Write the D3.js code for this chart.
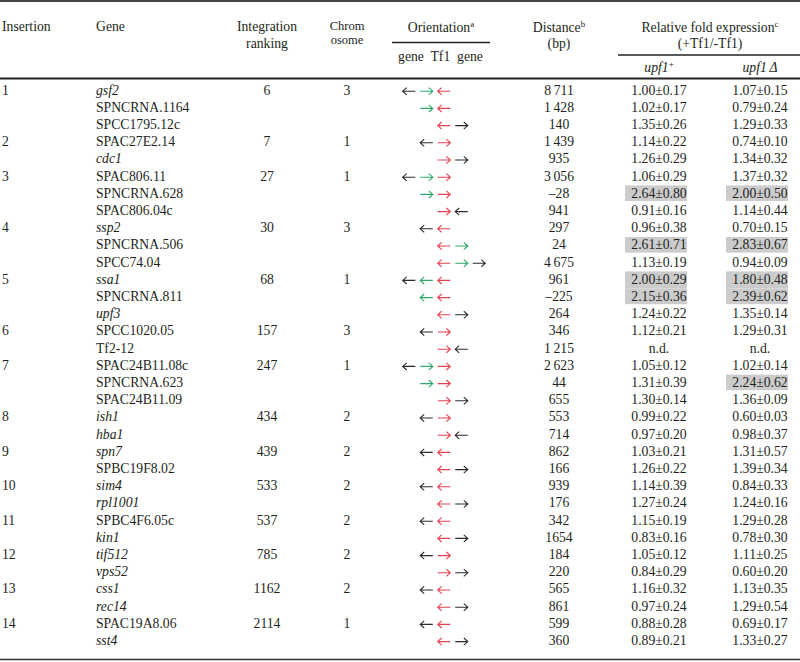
<!DOCTYPE html>
<html><head><meta charset="utf-8">
<script src="https://cdn.jsdelivr.net/npm/d3@7"></script>
<style>body{margin:0;background:#fff}svg{display:block}</style>
</head><body>
<script>
// ---- data ----
const insertions = ["1","","","2","","3","","","4","","","5","","","6","","7","","","8","","9","","10","","11","","12","","13","","14",""];
const genes = ["gsf2","SPNCRNA.1164","SPCC1795.12c","SPAC27E2.14","cdc1","SPAC806.11","SPNCRNA.628","SPAC806.04c","ssp2","SPNCRNA.506","SPCC74.04","ssa1","SPNCRNA.811","upf3","SPCC1020.05","Tf2-12","SPAC24B11.08c","SPNCRNA.623","SPAC24B11.09","ish1","hba1","spn7","SPBC19F8.02","sim4","rpl1001","SPBC4F6.05c","kin1","tif512","vps52","css1","rec14","SPAC19A8.06","sst4"];
const rankings = ["6","","","7","","27","","","30","","","68","","","157","","247","","","434","","439","","533","","537","","785","","1162","","2114",""];
const chromosomes = ["3","","","1","","1","","","3","","","1","","","3","","1","","","2","","2","","2","","2","","2","","2","","1",""];
// orientation: 5 slots; k=gene (black), g=ncRNA (green), r=Tf1 (red); < left, > right
const orientations = [
 "k< g> r< . .", ". g> r< . .", ". . r< k> .",
 ". k< r> . .", ". . r> k> .",
 "k< g> r> . .", ". g> r> . .", ". . r> k< .",
 ". k< r< . .", ". . r< g> .", ". . r< g> k>",
 "k< g< r< . .", ". g< r< . .", ". . r< k> .",
 ". k< r> . .", ". . r> k< .",
 "k< g> r> . .", ". g> r> . .", ". . r> k> .",
 ". k< r> . .", ". . r> k< .",
 ". k< r< . .", ". . r< k> .",
 ". k< r< . .", ". . r< k> .",
 ". k< r< . .", ". . r< k> .",
 ". k< r> . .", ". . r> k> .",
 ". k< r< . .", ". . r< k> .",
 ". k< r< . .", ". . r< k> ."];
const distances = ["8\u2009711","1\u2009428","140","1\u2009439","935","3\u2009056","\u201328","941","297","24","4\u2009675","961","\u2013225","264","346","1\u2009215","2\u2009623","44","655","553","714","862","166","939","176","342","1654","184","220","565","861","599","360"];
const upf1Plus = ["1.00±0.17","1.02±0.17","1.35±0.26","1.14±0.22","1.26±0.29","1.06±0.29","2.64±0.80","0.91±0.16","0.96±0.38","2.61±0.71","1.13±0.19","2.00±0.29","2.15±0.36","1.24±0.22","1.12±0.21","n.d.","1.05±0.12","1.31±0.39","1.30±0.14","0.99±0.22","0.97±0.20","1.03±0.21","1.26±0.22","1.14±0.39","1.27±0.24","1.15±0.19","0.83±0.16","1.05±0.12","0.84±0.29","1.16±0.32","0.97±0.24","0.88±0.28","0.89±0.21"];
const upf1Delta = ["1.07±0.15","0.79±0.24","1.29±0.33","0.74±0.10","1.34±0.32","1.37±0.32","2.00±0.50","1.14±0.44","0.70±0.15","2.83±0.67","0.94±0.09","1.80±0.48","2.39±0.62","1.35±0.14","1.29±0.31","n.d.","1.02±0.14","2.24±0.62","1.36±0.09","0.60±0.03","0.98±0.37","1.31±0.57","1.39±0.34","0.84±0.33","1.24±0.16","1.29±0.28","0.78±0.30","1.11±0.25","0.60±0.20","1.13±0.35","1.29±0.54","0.69±0.17","1.33±0.27"];
const highlightPlus = [6,9,11,12];
const highlightDelta = [6,9,11,12,17];

// ---- layout ----
const W = 800, H = 662;
const FONT = "'Liberation Serif','Times New Roman',serif";
const FS = 13.7;
const TXT = "#231f20";
const svg = d3.select("body").append("svg").attr("width", W).attr("height", H)
  .style("font-family", FONT).style("font-size", FS + "px").attr("fill", TXT);

const n = genes.length;
const rowStep = 17.2;
const y = d3.scaleBand().domain(d3.range(n)).range([81.4, 81.4 + rowStep * n]).paddingInner(0).paddingOuter(0);
const yc = i => y(i) + y.bandwidth() / 2;

const colX = {ins: 2, gene: 96, rank: 267, chrom: 347, orient: 441, dist: 559, plus: 659, delta: 760};
const slot = d3.scalePoint().domain([0,1,2,3,4]).range([409, 479]);
const colors = {k: "#2b2b2b", g: "#2ea868", r: "#e5414f"};

// rules
function hline(x1, x2, yy, w, c) {
  svg.append("line").attr("x1", x1).attr("x2", x2).attr("y1", yy).attr("y2", yy)
    .attr("stroke", c || "#333").attr("stroke-width", w);
}
hline(0, W, 1, 2, "#444");
hline(0, W, 78.5, 2.2, "#222");
hline(0, W, 659.5, 1.6, "#333");
hline(392, 490, 42.5, 1.5, "#222");
hline(618, W, 55, 1.5, "#222");

// header
function htext(x, yy, anchor) {
  return svg.append("text").attr("x", x).attr("y", yy).attr("text-anchor", anchor || "middle");
}
htext(colX.ins, 31, "start").text("Insertion");
htext(colX.gene, 31, "start").text("Gene");
htext(colX.rank, 31).text("Integration");
htext(colX.rank, 48).text("ranking");
let t = htext(colX.chrom, 29.5).style("font-size", "12.5px");
t.append("tspan").attr("x", colX.chrom).text("Chrom");
t.append("tspan").attr("x", colX.chrom).attr("dy", 14.2).text("osome");
t = htext(colX.orient, 32); t.append("tspan").text("Orientation");
t.append("tspan").attr("dy", -5).style("font-size", "9px").text("a");
htext(colX.orient - 0.5, 61).attr("xml:space","preserve").text("gene  Tf1  gene");
t = htext(colX.dist, 32); t.append("tspan").text("Distance");
t.append("tspan").attr("dy", -5).style("font-size", "9px").text("b");
htext(colX.dist, 48).text("(bp)");
t = htext(710, 32); t.append("tspan").text("Relative fold expression");
t.append("tspan").attr("dy", -5).style("font-size", "9px").text("c");
htext(710, 48).text("(+Tf1/-Tf1)");
t = htext(colX.plus, 72); t.append("tspan").style("font-style", "italic").text("upf1");
t.append("tspan").attr("dy", -5).style("font-size", "9px").text("+");
htext(colX.delta, 72).style("font-style", "italic").text("upf1\u2009Δ");

// highlights
function drawHighlights(list, cx) {
  list.forEach(i => {
    const top = yc(i) - 7.8;
    const h = list.includes(i + 1) ? rowStep : 15.6;
    svg.append("rect").attr("x", cx - 33).attr("y", top).attr("width", 62).attr("height", h)
      .attr("fill", "#cccccc");
  });
}
drawHighlights(highlightPlus, colX.plus - 1);
drawHighlights(highlightDelta, colX.delta - 1);

// body rows
const rows = svg.append("g").selectAll("g").data(d3.range(n)).join("g");
rows.append("text").attr("x", colX.ins).attr("y", i => yc(i) + 4.6).text(i => insertions[i]);
rows.append("text").attr("x", colX.gene).attr("y", i => yc(i) + 4.6)
  .style("font-style", i => /^[a-z]/.test(genes[i]) ? "italic" : "normal").text(i => genes[i]);
rows.append("text").attr("x", colX.rank).attr("text-anchor", "middle").attr("y", i => yc(i) + 4.6).text(i => rankings[i]);
rows.append("text").attr("x", colX.chrom).attr("text-anchor", "middle").attr("y", i => yc(i) + 4.6).text(i => chromosomes[i]);
rows.append("text").attr("x", colX.dist).attr("text-anchor", "middle").attr("y", i => yc(i) + 4.6).text(i => distances[i]);
rows.append("text").attr("x", colX.plus).attr("text-anchor", "middle").attr("y", i => yc(i) + 4.6).text(i => upf1Plus[i]);
rows.append("text").attr("x", colX.delta).attr("text-anchor", "middle").attr("y", i => yc(i) + 4.6).text(i => upf1Delta[i]);

// arrows
rows.each(function(i) {
  const g = d3.select(this);
  orientations[i].split(" ").forEach((tok, s) => {
    if (tok === ".") return;
    const c = colors[tok[0]], dir = tok[1] === ">" ? 1 : -1;
    const cx = slot(s), cy = yc(i) + 1.2, half = 6.3;
    const tip = cx + dir * half, tail = cx - dir * half;
    g.append("path")
      .attr("d", `M${tail},${cy}L${tip},${cy}M${tip - dir * 4},${cy - 3.6}L${tip},${cy}L${tip - dir * 4},${cy + 3.6}`)
      .attr("fill", "none").attr("stroke", c).attr("stroke-width", 1.1);
  });
});
</script>
</body></html>
